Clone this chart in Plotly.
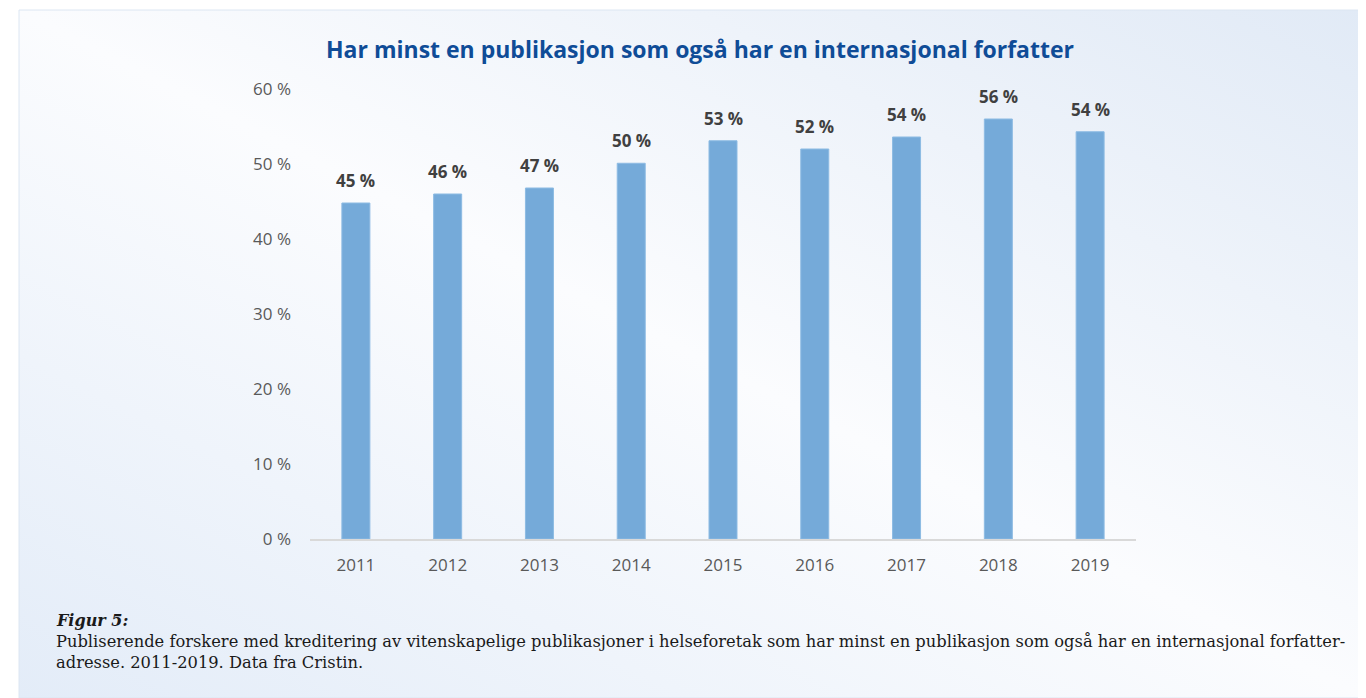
import plotly.graph_objects as go

years = ["2011", "2012", "2013", "2014", "2015", "2016", "2017", "2018", "2019"]
shares = [44.8, 46.0, 46.8, 50.1, 53.1, 52.0, 53.6, 56.0, 54.3]
labels = ["45 %", "46 %", "47 %", "50 %", "53 %", "52 %", "54 %", "56 %", "54 %"]

title = "Har minst en publikasjon som også har en internasjonal forfatter"
caption_head = "Figur 5:"
caption_body = (
    "Publiserende forskere med kreditering av vitenskapelige publikasjoner i helseforetak "
    "som har minst en publikasjon som også har en internasjonal forfatter-<br>"
    "adresse. 2011-2019. Data fra Cristin."
)

# the page puts the figure 8px in from the top-left corner
OFF = 8
PW, PH = 826, 450  # plot area in px

# diagonal light-blue background panel, as an inline svg
bg_svg = (
    "data:image/svg+xml;utf8,"
    "<svg xmlns='http://www.w3.org/2000/svg' width='1347' height='688' preserveAspectRatio='none'>"
    "<defs><linearGradient id='g' x1='1' y1='0' x2='0' y2='1'>"
    "<stop offset='0' stop-color='%23e1eaf6'/>"
    "<stop offset='0.5' stop-color='%23fbfcfe'/>"
    "<stop offset='1' stop-color='%23e3ecf8'/>"
    "</linearGradient></defs>"
    "<rect width='1347' height='688' fill='url(%23g)'/></svg>"
)

fig = go.Figure()
fig.add_bar(
    x=years,
    y=shares,
    marker=dict(color="#75aad9", line=dict(color="#8dbbe3", width=1)),
    hoverinfo="skip",
)

# value labels sit a bit above each bar
# (category axis: numeric-looking strings would be read as indices, so pass the index)
for i, (share, label) in enumerate(zip(shares, labels)):
    fig.add_annotation(
        x=i, y=share, text=label, showarrow=False,
        yanchor="bottom", yshift=9,
        font=dict(family="Open Sans", size=17, color="#404040", weight="bold"),
    )

fig.update_layout(
    width=1366,
    height=698,
    margin=dict(l=310 - OFF, r=230 + OFF, t=89 - OFF, b=159 + OFF),
    paper_bgcolor="white",
    plot_bgcolor="rgba(0,0,0,0)",
    bargap=0.695,
    showlegend=False,
    font=dict(family="Open Sans", color="#595959"),
    images=[dict(
        source=bg_svg, xref="paper", yref="paper",
        x=-291 / PW, y=1 + 79 / PH, sizex=1347 / PW, sizey=688 / PH,
        xanchor="left", yanchor="top", sizing="stretch", layer="below",
    )],
    shapes=[dict(
        type="rect", xref="paper", yref="paper",
        x0=-291 / PW, y0=-159 / PH, x1=1 + 231 / PW, y1=1 + 79 / PH,
        line=dict(color="#dce6f2", width=1), layer="below",
    )],
)

fig.add_annotation(
    text=title, xref="paper", yref="paper", x=(700 - 310) / PW, y=1 + 40 / PH,
    showarrow=False, xanchor="center", yanchor="middle",
    font=dict(family="Open Sans", size=23, color="#0f4c97", weight="bold"),
)
fig.add_annotation(
    text="<b><i>" + caption_head + "</i></b>", xref="paper", yref="paper",
    x=-256 / PW, y=-(620 - 539) / PH, showarrow=False,
    xanchor="left", yanchor="middle",
    font=dict(family="DejaVu Serif", size=16, color="#1a1a1a"),
)
fig.add_annotation(
    text=caption_body, xref="paper", yref="paper",
    x=-256 / PW, y=-(652 - 539) / PH, showarrow=False, align="left",
    xanchor="left", yanchor="middle",
    font=dict(family="DejaVu Serif", size=16.3, color="#1a1a1a"),
)

fig.update_xaxes(
    type="category",
    showline=True, linecolor="#d9d9d9", linewidth=1.5,
    showgrid=False, ticks="", tickfont=dict(size=17, color="#595959"),
    ticklabelstandoff=10,
)
fig.update_yaxes(
    range=[0, 60], dtick=10, ticksuffix=" %", showgrid=False, zeroline=False,
    showline=False, tickfont=dict(size=17, color="#595959"), ticklabelstandoff=18,
)

fig.write_html("out.html")
